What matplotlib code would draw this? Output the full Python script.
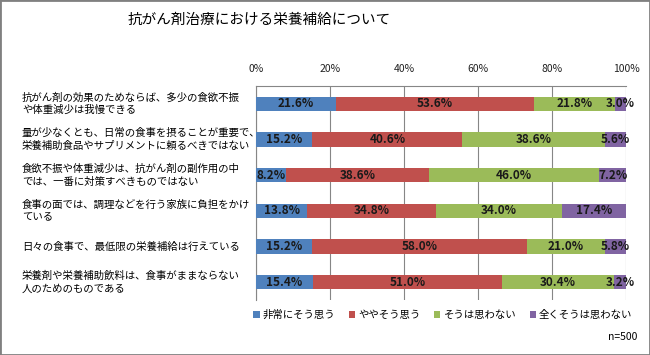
import numpy as np
import matplotlib
matplotlib.use('Agg')
import matplotlib.pyplot as plt
from matplotlib.patches import Rectangle

plt.rcParams['font.family'] = ['Noto Sans CJK JP', 'DejaVu Sans']

title = '抗がん剤治療における栄養補給について'
questions = [
    '抗がん剤の効果のためならば、多少の食欲不振\nや体重減少は我慢できる',
    '量が少なくとも、日常の食事を摂ることが重要で、\n栄養補助食品やサプリメントに頼るべきではない',
    '食欲不振や体重減少は、抗がん剤の副作用の中\nでは、一番に対策すべきものではない',
    '食事の面では、調理などを行う家族に負担をかけ\nている',
    '日々の食事で、最低限の栄養補給は行えている',
    '栄養剤や栄養補助飲料は、食事がままならない\n人のためのものである',
]
series_names = ['非常にそう思う', 'ややそう思う', 'そうは思わない', '全くそうは思わない']
very_agree = [21.6, 15.2, 8.2, 13.8, 15.2, 15.4]
agree = [53.6, 40.6, 38.6, 34.8, 58.0, 51.0]
disagree = [21.8, 38.6, 46.0, 34.0, 21.0, 30.4]
strongly_disagree = [3.0, 5.6, 7.2, 17.4, 5.8, 3.2]
colors = ['#4F81BD', '#C0504D', '#9BBB59', '#8064A2']

fig = plt.figure(figsize=(6.5, 3.55), dpi=100)
ax = fig.add_axes([256/650, 1-300/355, 370/650, 214/355])

y = np.arange(len(questions))
left = np.zeros(len(questions))
for vals, name, c in zip([very_agree, agree, disagree, strongly_disagree], series_names, colors):
    vals = np.array(vals)
    ax.barh(y, vals, left=left, height=0.4, color=c, label=name, zorder=3)
    for yi, l, v in zip(y, left, vals):
        ax.text(l + v/2, yi, f'{v:.1f}%', ha='center', va='center',
                fontsize=8.5, fontweight='bold', color='#1a1a1a', zorder=4)
    left += vals

ax.set_xlim(0, 100)
ax.set_ylim(len(questions) - 0.5, -0.5)
ax.set_xticks(np.arange(0, 101, 20))
ax.set_xticklabels([f'{t}%' for t in range(0, 101, 20)])
ax.xaxis.tick_top()
ax.tick_params(axis='x', length=0, pad=9, labelsize=7.5, colors='#222222')
ax.set_yticks(y)
ax.set_yticklabels([])
ax.tick_params(axis='y', length=0)
ax.grid(axis='x', color='#868686', linewidth=0.8, zorder=0)
for s in ['right', 'bottom']:
    ax.spines[s].set_visible(False)
ax.spines['left'].set_color('#868686')
ax.spines['top'].set_color('#868686')

for yi, q in zip(y, questions):
    ax.annotate(q, xy=(0, yi), xycoords=('figure fraction', 'data'),
                xytext=(22, 0), textcoords='offset pixels',
                ha='left', va='center', fontsize=7.5, linespacing=1.3)

fig.legend(loc='center', bbox_to_anchor=(443/650, 1-315/355), ncol=4,
           frameon=False, fontsize=7.5, handlelength=0.6, handleheight=0.6,
           handletextpad=0.3, columnspacing=1.3)

fig.text(259/650, 1-20/355, title, ha='center', va='center', fontsize=10.5)
fig.text(637/650, 1-337/355, 'n=500', ha='right', va='center', fontsize=7.5)

fig.patches.append(Rectangle((0, 0), 1, 1, transform=fig.transFigure,
                             fill=False, edgecolor='#808080', linewidth=2))

fig.savefig('out.png', dpi=100)
